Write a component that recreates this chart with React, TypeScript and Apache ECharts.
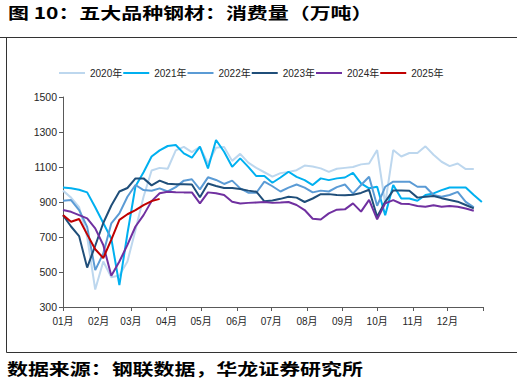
import React, { useEffect, useRef } from "react";
import * as echarts from "echarts";

const titleText = "图 10：五大品种钢材：消费量（万吨）";
const sourceText = "数据来源：钢联数据，华龙证券研究所";

const monthStarts = [0, 31, 59, 90, 120, 151, 181, 212, 243, 273, 304, 334];
const yearEnd = 365;
const monthLabels = ["01月", "02月", "03月", "04月", "05月", "06月", "07月", "08月", "09月", "10月", "11月", "12月"];
const daysPerWeek = 7;

const seriesNames = ["2020年", "2021年", "2022年", "2023年", "2024年", "2025年"];
const seriesColors = ["#BDD7EE", "#00B0F0", "#5B9BD5", "#1F4E79", "#7030A0", "#C00000"];

const d2020 = [965, 925, 870, 700, 400, 560, 470, 480, 560, 740, 930, 1080, 1095, 1090, 1195, 1215, 1185, 1215, 1120, 1210, 1215, 1135, 1175, 1125, 1095, 1070, 1045, 1065, 1072, 1082, 1108, 1103, 1092, 1072, 1090, 1095, 1100, 1115, 1120, 1197, 890, 1197, 1160, 1180, 1180, 1218, 1170, 1130, 1105, 1120, 1088, 1088];
const d2021 = [983, 978, 970, 955, 870, 780, 690, 425, 720, 990, 1070, 1160, 1195, 1220, 1226, 1178, 1153, 1216, 1092, 1254, 1187, 1101, 1149, 1101, 1048, 1048, 1010, 1040, 1073, 1044, 1025, 997, 1035, 1025, 1035, 1040, 1067, 1006, 978, 987, 825, 997, 920, 920, 907, 940, 949, 968, 983, 983, 983, 940, 900];
const d2022 = [907, 911, 854, 758, 511, 606, 778, 835, 930, 997, 968, 964, 978, 960, 985, 1022, 1030, 972, 1041, 1026, 1003, 1022, 978, 953, 953, 1016, 990, 960, 982, 1000, 982, 955, 965, 960, 985, 1000, 948, 997, 1044, 878, 987, 1016, 1016, 1016, 987, 987, 940, 930, 940, 958, 901, 869];
const d2023 = [825, 760, 705, 525, 650, 780, 880, 960, 980, 1035, 1035, 995, 1022, 1004, 1002, 1002, 1000, 927, 1006, 991, 980, 980, 974, 965, 959, 904, 908, 918, 930, 925, 900, 920, 945, 945, 940, 938, 942, 952, 970, 816, 901, 966, 966, 964, 925, 930, 934, 922, 912, 902, 883, 864];
const d2024 = [854, 844, 825, 806, 749, 654, 478, 560, 655, 760, 825, 905, 950, 958, 956, 955, 955, 892, 955, 950, 940, 902, 892, 895, 897, 900, 895, 897, 900, 883, 854, 804, 800, 835, 856, 858, 892, 845, 912, 801, 892, 911, 890, 888, 877, 873, 882, 873, 877, 873, 863, 850];
const d2025 = [825, 787, 803, 715, 630, 580, 685, 798, 830, 854, 882, 905, 918];

const allData = [d2020, d2021, d2022, d2023, d2024, d2025];

const yMin = 300;
const yMax = 1500;
const yStep = 200;

export default function App() {
  const ref = useRef<HTMLDivElement>(null);
  useEffect(() => {
    if (!ref.current) return;
    const chart = echarts.init(ref.current, null, { renderer: "svg" });
    const axisFont = '"Liberation Sans", Arial, "Noto Sans CJK SC", sans-serif';
    const cjkFont = '"Noto Sans CJK SC", sans-serif';
    chart.setOption({
      animation: false,
      backgroundColor: "#ffffff",
      legend: {
        left: 59,
        top: 68,
        padding: 0,
        itemWidth: 26,
        itemHeight: 2,
        itemGap: 1,
        icon: "rect",
        data: seriesNames,
        textStyle: { fontSize: 10, color: "#262626", fontFamily: axisFont },
      },
      grid: { left: 63, right: 38, top: 97, bottom: 85, containLabel: false },
      xAxis: {
        type: "value",
        min: 0,
        max: yearEnd,
        splitLine: { show: false },
        axisLine: { show: true, lineStyle: { color: "#595959", width: 1 } },
        axisTick: {
          show: true,
          length: 4,
          customValues: [...monthStarts, yearEnd],
          lineStyle: { color: "#595959" },
        },
        axisLabel: {
          customValues: monthStarts,
          formatter: (v: number) => {
            const i = monthStarts.indexOf(Math.round(v));
            return i >= 0 ? monthLabels[i] : "";
          },
          fontSize: 10,
          color: "#262626",
          fontFamily: axisFont,
          margin: 9,
        },
      },
      yAxis: {
        type: "value",
        min: yMin,
        max: yMax,
        interval: yStep,
        splitLine: { show: false },
        axisLine: { show: true, lineStyle: { color: "#595959", width: 1 } },
        axisTick: { show: true, length: 4, lineStyle: { color: "#595959" } },
        axisLabel: {
          fontSize: 10.5,
          color: "#262626",
          fontFamily: axisFont,
          margin: 6,
          formatter: (v: number) => String(v),
        },
      },
      series: allData.map((vals, k) => ({
        name: seriesNames[k],
        type: "line",
        symbol: "none",
        smooth: false,
        data: vals.map((v, i) => [i * daysPerWeek, v]),
        lineStyle: { color: seriesColors[k], width: 2 },
        itemStyle: { color: seriesColors[k] },
        z: 2 + k,
      })),
      graphic: [
        { type: "line", shape: { x1: 0, y1: 37.5, x2: 517, y2: 37.5 }, style: { stroke: "#333", lineWidth: 1 } },
        { type: "line", shape: { x1: 6.5, y1: 37.5, x2: 6.5, y2: 352.5 }, style: { stroke: "#333", lineWidth: 1 } },
        { type: "line", shape: { x1: 6.5, y1: 352.5, x2: 517, y2: 352.5 }, style: { stroke: "#333", lineWidth: 1 } },
        {
          type: "text",
          x: 8,
          y: 12,
          scaleX: 1.31,
          style: {
            text: titleText,
            font: `bold 16px ${cjkFont}`,
            fill: "#000",
            textVerticalAlign: "middle",
          },
        },
        {
          type: "text",
          x: 7,
          y: 368,
          scaleX: 1.31,
          style: {
            text: sourceText,
            font: `bold 16px ${cjkFont}`,
            fill: "#000",
            textVerticalAlign: "middle",
          },
        },
      ],
    });
    return () => chart.dispose();
  }, []);
  return (
    <div
      ref={ref}
      style={{ position: "absolute", left: 0, top: 0, width: 521, height: 392 }}
    />
  );
}
